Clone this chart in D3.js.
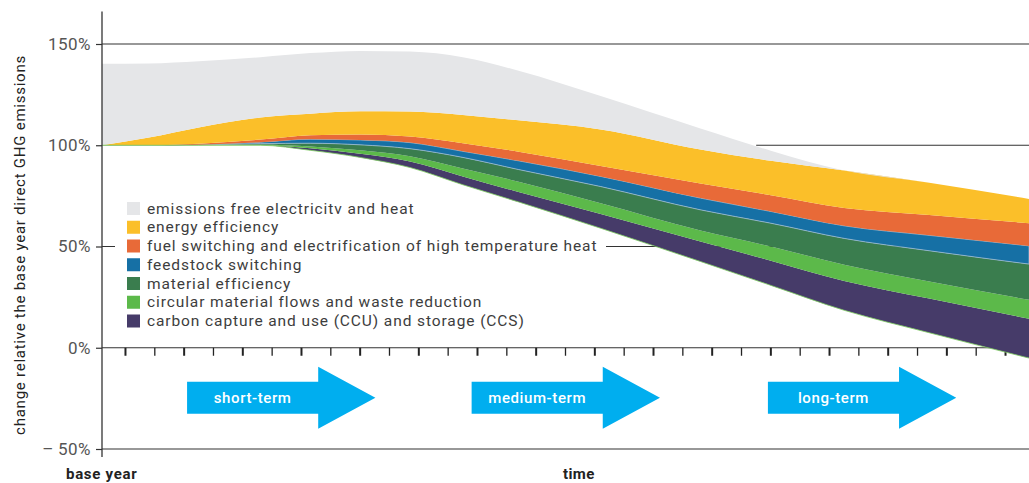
<!DOCTYPE html>
<html>
<head>
<meta charset="utf-8">
<script src="https://cdn.jsdelivr.net/npm/d3@7"></script>
<style>
  body { margin: 0; background: #fff; }
  svg { display: block; font-family: Roboto, "DejaVu Sans", sans-serif; }
</style>
</head>
<body>
<div id="chart"></div>
<script>
// time in tick steps (base year sits a bit left of the first tick)
const time = [-0.8, 0.8, 2.5, 4.6, 6.3, 8, 9.7, 11.5, 13.4, 16.2, 19.6, 22, 24.5, 27.4, 30.8];

// remaining direct emissions (bottom edge), % of base year
const remaining = [100, 100, 100, 100, 97.5, 94, 89, 80.5, 72, 59, 42.6, 30.8, 18.5, 7.4, -5.1];
// wedge thickness of each lever, percentage points
const ccs         = [0, 0, 0, 0, 1, 1.8, 3, 4.1, 4.9, 7, 9.9, 12.2, 14.5, 16.9, 19.4];
const circular    = [0, 0, 0.1, 0.2, 0.9, 1.7, 2.6, 3.9, 5.1, 5.4, 5.4, 7, 8, 8.4, 9.4];
const material    = [0, 0, 0.1, 0.6, 1.6, 2.7, 3.7, 5.5, 6, 8.2, 10.2, 11.5, 13, 15.2, 17.6];
const feedstock   = [0, 0, 0.1, 0.7, 2, 2.4, 3, 3, 4.3, 5, 5.8, 5.8, 6.2, 7.6, 9];
const fuel        = [0, 0, 0.5, 1.3, 2, 2.7, 3, 4, 4.5, 5.2, 7.2, 8, 8.8, 10, 11.2];
const energy      = [0, 3.8, 8, 10.9, 10.6, 11.5, 12.4, 14, 15.5, 18, 16.8, 17, 18.5, 16, 12];
const electricity = [40.2, 36.6, 32.7, 29.8, 29.9, 29.8, 29.6, 28.5, 24.5, 16.5, 10.4, 5, 0, 0, 0];

const layerKeys = ["ccs", "circular", "material", "feedstock", "fuel", "energy", "electricity"];
const layerNames = {
  electricity: "emissions free electricitv and heat",
  energy: "energy efficiency",
  fuel: "fuel switching and electrification of high temperature heat",
  feedstock: "feedstock switching",
  material: "material efficiency",
  circular: "circular material flows and waste reduction",
  ccs: "carbon capture and use (CCU) and storage (CCS)"
};
const layerColors = {
  electricity: "#e5e6e8",
  energy: "#fbbf29",
  fuel: "#e86a38",
  feedstock: "#1670a5",
  material: "#3a7d4e",
  circular: "#5cb94a",
  ccs: "#463b69"
};
const legendOrder = ["electricity", "energy", "fuel", "feedstock", "material", "circular", "ccs"];

const yTicks = [150, 100, 50, 0, -50];
const xTicks = d3.range(0, 31);
const periodLabels = ["short-term", "medium-term", "long-term"];
const periodStart = [2.1, 11.8, 21.9];

const W = 1029, H = 483;
const svg = d3.select("#chart").append("svg")
  .attr("width", W)
  .attr("height", H);

const x = d3.scaleLinear().domain([-0.8, 30.8]).range([102, 1029]);
const y = d3.scaleLinear().domain([-50, 150]).range([449, 44]);

const table = time.map((t, i) => ({
  t: t,
  remaining: remaining[i],
  ccs: ccs[i],
  circular: circular[i],
  material: material[i],
  feedstock: feedstock[i],
  fuel: fuel[i],
  energy: energy[i],
  electricity: electricity[i]
}));

const stacked = d3.stack().keys(["remaining"].concat(layerKeys))(table);

// gridlines behind the wedges
const grid = svg.append("g");
[150, 50, 0, -50].forEach(v => {
  grid.append("line")
    .attr("x1", x(-0.8)).attr("x2", W)
    .attr("y1", y(v)).attr("y2", y(v))
    .attr("stroke", "#333").attr("stroke-width", 1.2);
});

// time ticks on the 0% line
svg.append("g").selectAll("line")
  .data(xTicks)
  .join("line")
  .attr("x1", d => x(d)).attr("x2", d => x(d))
  .attr("y1", y(0)).attr("y2", y(0) + 8)
  .attr("stroke", "#222")
  .attr("stroke-width", d => d % 2 === 0 ? 2 : 1.3);

// legend backing hides the 50% line but sits under the wedges
svg.append("rect")
  .attr("x", 115).attr("y", 197)
  .attr("width", 491).attr("height", 133)
  .attr("fill", "#fff");

const area = d3.area()
  .x(d => x(d.data.t))
  .y0(d => y(d[0]))
  .y1(d => y(d[1]))
  .curve(d3.curveMonotoneX);

svg.append("g").selectAll("path")
  .data(stacked.filter(s => s.key !== "remaining"))
  .join("path")
  .attr("d", area)
  .attr("fill", d => layerColors[d.key])
  .attr("stroke", d => d.key === "feedstock" ? "#9dbbd0" : "none")
  .attr("stroke-width", 0.8);

// thin light edge under the remaining emissions
svg.append("path")
  .datum(stacked[0])
  .attr("d", d3.line().x(d => x(d.data.t)).y(d => y(d[1])).curve(d3.curveMonotoneX))
  .attr("fill", "none")
  .attr("stroke", "#7ccc5e")
  .attr("stroke-width", 0.8);

// 100% line shows over the tail of the chart
svg.append("line")
  .attr("x1", x(21.5)).attr("x2", W)
  .attr("y1", y(100)).attr("y2", y(100))
  .attr("stroke", "#333").attr("stroke-width", 1.2);

// legend
const items = svg.append("g").selectAll("g.item")
  .data(legendOrder)
  .join("g")
  .attr("class", "item")
  .attr("transform", (d, i) => `translate(127,${202 + i * 18.75})`);

items.append("rect")
  .attr("width", 13).attr("height", 13)
  .attr("fill", d => layerColors[d]);

items.append("text")
  .attr("x", 20).attr("y", 11.5)
  .attr("font-size", 15.5)
  .attr("letter-spacing", 0.9)
  .attr("fill", "#3d3d3d")
  .text(d => layerNames[d]);

// y axis
const yAxis = svg.append("g")
  .attr("transform", `translate(${x(-0.8)},0)`)
  .call(d3.axisLeft(y)
    .tickValues(yTicks)
    .tickSize(6)
    .tickPadding(5)
    .tickFormat(d => d < 0 ? "\u2013\u2009" + Math.abs(d) + "%" : d + "%"));
yAxis.select(".domain").remove();
yAxis.selectAll(".tick line").attr("stroke", "#333").attr("stroke-width", 1.2);
yAxis.selectAll(".tick text")
  .attr("font-size", 17)
  .attr("fill", "#555")
  .attr("letter-spacing", 0.5)
  .style("font-family", "Roboto, sans-serif");

svg.append("line")
  .attr("x1", x(-0.8)).attr("x2", x(-0.8))
  .attr("y1", y(166)).attr("y2", y(-54))
  .attr("stroke", "#333").attr("stroke-width", 1.3);

// period arrows
const arrows = svg.append("g").selectAll("g")
  .data(periodLabels)
  .join("g");

arrows.append("path")
  .attr("d", (d, i) => {
    const x0 = x(periodStart[i]), x1 = x(periodStart[i] + 4.47), x2 = x(periodStart[i] + 6.42);
    const yc = y(-24.7);
    return `M${x0},${yc - 16}L${x1},${yc - 16}L${x1},${yc - 31}L${x2},${yc}` +
      `L${x1},${yc + 31}L${x1},${yc + 16}L${x0},${yc + 16}Z`;
  })
  .attr("fill", "#00aeef");

arrows.append("text")
  .attr("x", (d, i) => (x(periodStart[i]) + x(periodStart[i] + 4.47)) / 2)
  .attr("y", y(-24.7) + 5)
  .attr("text-anchor", "middle")
  .attr("font-size", 15)
  .attr("font-weight", 500)
  .attr("letter-spacing", 0.6)
  .attr("fill", "#fff")
  .text(d => d);

// axis titles
svg.append("text")
  .attr("transform", `translate(25,245) rotate(-90)`)
  .attr("text-anchor", "middle")
  .attr("font-size", 15)
  .attr("letter-spacing", 0.75)
  .attr("fill", "#222")
  .text("change relative the base year direct GHG emissions");

svg.append("text")
  .attr("x", 66).attr("y", 479)
  .attr("font-size", 15)
  .attr("font-weight", 700)
  .attr("letter-spacing", 0.7)
  .attr("fill", "#222")
  .text("base year");

svg.append("text")
  .attr("x", 563).attr("y", 479)
  .attr("font-size", 15)
  .attr("font-weight", 700)
  .attr("letter-spacing", 0.4)
  .attr("fill", "#222")
  .text("time");
</script>
</body>
</html>
